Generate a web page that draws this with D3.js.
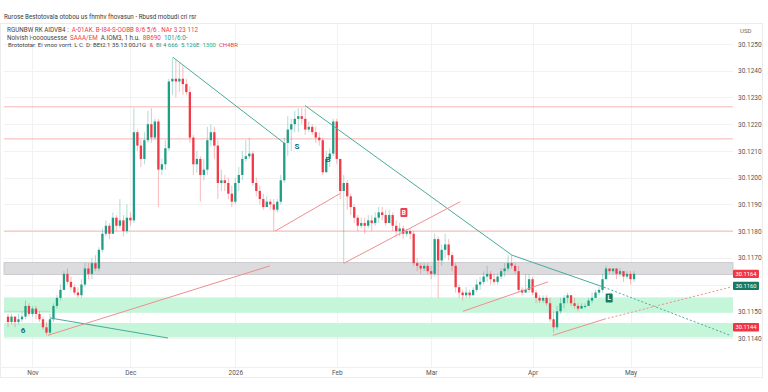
<!DOCTYPE html>
<html>
<head>
<meta charset="utf-8">
<script src="https://cdn.jsdelivr.net/npm/d3@7"></script>
<style>
  body { margin: 0; background: #fff; }
  svg { display: block; font-family: Roboto, "Noto Sans", sans-serif; }
</style>
</head>
<body>
<div id="chart-area"></div>
<script>
// price data, one candle per session
const firstOpen = 30.1148;
const closes = [
  30.1146,30.1148,30.1146,30.1147,30.1148,30.1152,30.1149,30.1151,30.1149,30.1147,
  30.1144,30.1142,30.1147,30.1152,30.1155,30.1158,30.1164,30.1161,30.1159,30.1157,
  30.1156,30.1160,30.1166,30.1164,30.1168,30.1166,30.1173,30.1179,30.1182,30.1179,
  30.1185,30.1182,30.1184,30.1180,30.1185,30.1184,30.1217,30.1212,30.1207,30.1214,
  30.1220,30.1215,30.1221,30.1203,30.1205,30.1211,30.1236,30.1237,30.1236,30.1237,
  30.1235,30.1232,30.1215,30.1205,30.1207,30.1201,30.1203,30.1214,30.1217,30.1212,
  30.1198,30.1199,30.1198,30.1194,30.1191,30.1198,30.1201,30.1207,30.1208,30.1209,
  30.1198,30.1195,30.1192,30.1189,30.1191,30.1190,30.1188,30.1191,30.1199,30.1213,
  30.1218,30.1220,30.1222,30.1223,30.1222,30.1218,30.1219,30.1217,30.1215,30.1214,
  30.1202,30.1207,30.1209,30.1221,30.1207,30.1195,30.1198,30.1193,30.1189,30.1185,
  30.1182,30.1183,30.1182,30.1184,30.1183,30.1185,30.1187,30.1186,30.1183,30.1186,
  30.1182,30.1180,30.1181,30.1179,30.1180,30.1179,30.1168,30.1167,30.1166,30.1167,
  30.1165,30.1164,30.1177,30.1169,30.1173,30.1175,30.1171,30.1167,30.1159,30.1157,
  30.1156,30.1157,30.1156,30.1158,30.1160,30.1161,30.1163,30.1164,30.1162,30.1161,
  30.1163,30.1165,30.1166,30.1168,30.1167,30.1165,30.1158,30.1157,30.1158,30.1162,
  30.1157,30.1155,30.1154,30.1155,30.1153,30.1147,30.1144,30.1150,30.1153,30.1155,
  30.1156,30.1153,30.1152,30.1151,30.1152,30.1152,30.1154,30.1155,30.1157,30.1158,
  30.1162,30.1166,30.1165,30.1166,30.1164,30.1165,30.1163,30.1164,30.1162,30.1164
];
const highs = [
  30.1149,30.1149,30.1148,30.1149,30.1150,30.1154,30.1153,30.1152,30.1152,30.1150,
  30.1148,30.1146,30.1149,30.1153,30.1156,30.1160,30.1165,30.1166,30.1163,30.1160,
  30.1159,30.1162,30.1168,30.1168,30.1170,30.1171,30.1174,30.1181,30.1184,30.1183,
  30.1187,30.1186,30.1192,30.1186,30.1190,30.1187,30.1226,30.1218,30.1214,30.1217,
  30.1225,30.1226,30.1222,30.1222,30.1207,30.1214,30.1237,30.1245,30.1244,30.1243,
  30.1242,30.1237,30.1234,30.1216,30.1210,30.1208,30.1207,30.1219,30.1220,30.1219,
  30.1214,30.1203,30.1201,30.1200,30.1197,30.1200,30.1204,30.1210,30.1214,30.1215,
  30.1210,30.1200,30.1197,30.1194,30.1193,30.1192,30.1192,30.1192,30.1201,30.1215,
  30.1223,30.1222,30.1225,30.1226,30.1226,30.1226,30.1221,30.1220,30.1219,30.1217,
  30.1215,30.1210,30.1211,30.1222,30.1222,30.1207,30.1201,30.1199,30.1194,30.1190,
  30.1186,30.1185,30.1185,30.1186,30.1186,30.1187,30.1189,30.1189,30.1188,30.1188,
  30.1187,30.1184,30.1183,30.1182,30.1181,30.1181,30.1180,30.1170,30.1168,30.1168,
  30.1168,30.1167,30.1179,30.1178,30.1175,30.1179,30.1177,30.1172,30.1168,30.1160,
  30.1158,30.1159,30.1158,30.1159,30.1162,30.1163,30.1165,30.1167,30.1165,30.1164,
  30.1164,30.1166,30.1168,30.1171,30.1171,30.1168,30.1167,30.1159,30.1164,30.1164,
  30.1163,30.1158,30.1156,30.1156,30.1156,30.1155,30.1150,30.1152,30.1155,30.1156,
  30.1157,30.1156,30.1155,30.1153,30.1153,30.1153,30.1155,30.1157,30.1158,30.1159,
  30.1164,30.1167,30.1166,30.1166,30.1166,30.1166,30.1165,30.1165,30.1165,30.1165
];
const lows = [
  30.1144,30.1145,30.1144,30.1145,30.1146,30.1147,30.1148,30.1148,30.1147,30.1146,
  30.1143,30.1141,30.1141,30.1146,30.1151,30.1154,30.1158,30.1160,30.1158,30.1156,
  30.1155,30.1155,30.1159,30.1162,30.1162,30.1165,30.1165,30.1172,30.1178,30.1177,
  30.1179,30.1180,30.1181,30.1178,30.1179,30.1182,30.1183,30.1210,30.1204,30.1205,
  30.1213,30.1213,30.1214,30.1189,30.1201,30.1203,30.1210,30.1231,30.1230,30.1232,
  30.1231,30.1231,30.1213,30.1201,30.1202,30.1191,30.1199,30.1201,30.1212,30.1207,
  30.1192,30.1195,30.1195,30.1192,30.1189,30.1190,30.1195,30.1199,30.1206,30.1207,
  30.1197,30.1193,30.1190,30.1188,30.1189,30.1188,30.1180,30.1187,30.1190,30.1198,
  30.1208,30.1210,30.1217,30.1217,30.1220,30.1216,30.1217,30.1216,30.1213,30.1212,
  30.1201,30.1202,30.1204,30.1208,30.1205,30.1192,30.1168,30.1188,30.1186,30.1183,
  30.1180,30.1181,30.1179,30.1181,30.1180,30.1182,30.1183,30.1184,30.1182,30.1183,
  30.1180,30.1178,30.1178,30.1177,30.1178,30.1177,30.1167,30.1165,30.1164,30.1165,
  30.1164,30.1162,30.1163,30.1155,30.1167,30.1170,30.1169,30.1165,30.1157,30.1155,
  30.1154,30.1155,30.1155,30.1156,30.1157,30.1158,30.1160,30.1161,30.1160,30.1160,
  30.1160,30.1162,30.1163,30.1165,30.1166,30.1164,30.1157,30.1156,30.1157,30.1157,
  30.1156,30.1153,30.1153,30.1153,30.1152,30.1146,30.1142,30.1143,30.1149,30.1151,
  30.1153,30.1152,30.1151,30.1150,30.1151,30.1151,30.1152,30.1153,30.1155,30.1156,
  30.1157,30.1162,30.1164,30.1164,30.1162,30.1163,30.1161,30.1162,30.1160,30.1161
];

const priceTicks = [30.1250,30.1240,30.1230,30.1220,30.1210,30.1200,30.1190,30.1180,30.1170,30.1160,30.1150,30.1140];
const monthTicks = [7, 35, 65, 94, 121, 150, 178];
const monthLabels = ["Nov", "Dec", "2026", "Feb", "Mar", "Apr", "May"];

// drawings: levels, zones and trend lines (candle index, price)
const levels = [30.12265, 30.12145, 30.1180];
const grayZone = [30.11682, 30.11638];
const greenZones = [[30.11552, 30.11494], [30.11456, 30.11402]];
const tealLines = [
  [[47.2, 30.1245], [78.9, 30.1213]],
  [[84.9, 30.1227], [144.1, 30.1171], [170.4, 30.1159]],
  [[12.0, 30.11475], [45.75, 30.1140]]
];
const tealDashed = [[170.4, 30.1159], [206.5, 30.1141]];
const guideLine = [[-1.1, 30.1150], [12.0, 30.1150]];
const redLines = [
  [[11.4, 30.1141], [74.9, 30.1167]],
  [[76.4, 30.1180], [94.9, 30.1194]],
  [[96.1, 30.1168], [129.3, 30.1191]],
  [[130.1, 30.1150], [154.4, 30.1161]],
  [[155.8, 30.1141], [170.4, 30.1147]]
];
const redDashed = [[170.4, 30.1147], [206.5, 30.1159]];

const markers = [
  {i: 4.3, p: 30.1143, label: "6", kind: "glyph"},
  {i: 82.6, p: 30.1212, label: "S", kind: "glyph"},
  {i: 91.5, p: 30.1207, label: "B", kind: "glyph"},
  {i: 113.2, p: 30.1187, label: "B", kind: "sell"},
  {i: 171.9, p: 30.1155, label: "L", kind: "buy"}
];
const priceTags = [
  {p: 30.1164, label: "30.1164", kind: "sell"},
  {p: 30.11595, label: "30.1160", kind: "buy"},
  {p: 30.1144, label: "30.1144", kind: "sell"}
];

const titleText = "Rurose Bestotovala otobou us fhmhv fhovasun - Rbusd mobudi cri rsr";
const legendRows = [
  [["RGUNBW RK AIDVB4 :", "dark"], ["A-01AK. B-I84-S-OOBB 8/6 5/6 . NAr 3 23 112", "red"]],
  [["Nolvish i-oooousesse", "dark"], ["SAAA/EM", "red"], ["A.IOM3, 1 h.u.", "dark"], ["8B690", "red"], ["101/6:0-", "teal"]],
  [["Brotototar. Ei vnoo vorrt. L C. D: BEt2.1 35.13 00J1G", "dark"], ["&", "red"], ["BI 4 666", "teal"], ["5.126E", "teal"], ["1300", "green"], ["CH4BR", "red"]]
];

const UP = "#1f9e86", DOWN = "#f03a47";
const TEAL = "#48ab9c", RED_LINE = "#f08e8e";

// shrink a text's font until it fits in maxW (no glyph squeezing)
const fitText = (sel, maxW, size) => {
  sel.attr("font-size", size);
  const w = sel.node().getComputedTextLength();
  if (w > maxW) sel.attr("font-size", size * maxW / w);
  return sel;
};

const drawChart = () => {
  const width = 768, height = 392;
  const plot = {left: 4, right: 733, top: 24, bottom: 367};

  const x = d3.scaleLinear().domain([0, closes.length - 1]).range([8, 634]);
  const y = d3.scaleLinear().domain([30.1140, 30.1250]).range([338, 44]);

  const candles = closes.map((c, i) => {
    const o = i === 0 ? firstOpen : closes[i - 1];
    return {i, o, c, h: Math.max(highs[i], o, c), l: Math.min(lows[i], o, c)};
  });

  const svg = d3.select("#chart-area").append("svg")
    .attr("width", width)
    .attr("height", height);

  svg.append("rect").attr("width", width).attr("height", height).attr("fill", "#fff");

  // frame
  svg.append("rect")
    .attr("x", 0.5).attr("y", plot.top - 0.5)
    .attr("width", 762).attr("height", 378 - plot.top)
    .attr("fill", "none").attr("stroke", "#ececec");
  svg.append("line")
    .attr("x1", 0).attr("x2", 763)
    .attr("y1", plot.bottom + 0.5).attr("y2", plot.bottom + 0.5)
    .attr("stroke", "#f0f0f0");

  // grid
  const grid = svg.append("g").attr("class", "grid");
  grid.selectAll(".hgrid").data(priceTicks).enter().append("line")
    .attr("x1", plot.left).attr("x2", plot.right)
    .attr("y1", d => Math.round(y(d)) + 0.5).attr("y2", d => Math.round(y(d)) + 0.5)
    .attr("stroke", "#f2f2f2");
  grid.selectAll(".vgrid").data(monthTicks).enter().append("line")
    .attr("x1", d => Math.round(x(d)) + 0.5).attr("x2", d => Math.round(x(d)) + 0.5)
    .attr("y1", plot.top).attr("y2", plot.bottom)
    .attr("stroke", "#f2f2f2");

  // zones
  const zonesG = svg.append("g");
  zonesG.selectAll(".green").data(greenZones).enter().append("rect")
    .attr("x", plot.left).attr("width", plot.right - plot.left)
    .attr("y", d => y(d[0])).attr("height", d => y(d[1]) - y(d[0]))
    .attr("fill", "#c6f6da");
  zonesG.append("rect")
    .attr("x", plot.left).attr("width", plot.right - plot.left)
    .attr("y", y(grayZone[0])).attr("height", y(grayZone[1]) - y(grayZone[0]))
    .attr("fill", "#dcdcde").attr("stroke", "#c4c4c8").attr("stroke-width", 0.8);

  // horizontal levels
  svg.selectAll(".level").data(levels).enter().append("line")
    .attr("x1", plot.left).attr("x2", plot.right)
    .attr("y1", d => y(d)).attr("y2", d => y(d))
    .attr("stroke", "#f5b5b5").attr("stroke-width", 1);

  const line = d3.line().x(d => x(d[0])).y(d => y(d[1]));

  svg.append("path").attr("d", line(guideLine))
    .attr("fill", "none").attr("stroke", "#cfd3d6").attr("stroke-width", 1);

  // candles
  const candleG = svg.append("g");
  const bw = 2.3;
  candleG.selectAll(".wick").data(candles).enter().append("line")
    .attr("x1", d => x(d.i)).attr("x2", d => x(d.i))
    .attr("y1", d => y(d.h)).attr("y2", d => y(d.l))
    .attr("stroke", d => d.c >= d.o ? UP : DOWN)
    .attr("stroke-opacity", 0.4)
    .attr("stroke-width", 0.9);
  candleG.selectAll(".body").data(candles).enter().append("rect")
    .attr("x", d => x(d.i) - bw / 2)
    .attr("width", bw)
    .attr("y", d => y(Math.max(d.o, d.c)))
    .attr("height", d => Math.max(1, Math.abs(y(d.o) - y(d.c))))
    .attr("fill", d => d.c >= d.o ? UP : DOWN);

  // trend lines
  tealLines.forEach(pts => svg.append("path").attr("d", line(pts))
    .attr("fill", "none").attr("stroke", TEAL).attr("stroke-width", 1));
  redLines.forEach(pts => svg.append("path").attr("d", line(pts))
    .attr("fill", "none").attr("stroke", RED_LINE).attr("stroke-width", 1));
  svg.append("path").attr("d", line(tealDashed))
    .attr("fill", "none").attr("stroke", TEAL).attr("stroke-width", 1)
    .attr("stroke-dasharray", "2,2");
  svg.append("path").attr("d", line(redDashed))
    .attr("fill", "none").attr("stroke", RED_LINE).attr("stroke-width", 1)
    .attr("stroke-dasharray", "2,2");

  // markers
  const mk = svg.append("g");
  markers.forEach(m => {
    const mx = x(m.i), my = y(m.p);
    if (m.kind === "glyph") {
      mk.append("text").attr("x", mx).attr("y", my + 3)
        .attr("text-anchor", "middle").attr("font-size", 8).attr("font-weight", 700)
        .attr("fill", "#0f6f78").text(m.label);
    } else {
      mk.append("rect").attr("x", mx - 3.5).attr("y", my - 4.5).attr("width", 7).attr("height", 9)
        .attr("rx", 1).attr("fill", m.kind === "buy" ? "#157a62" : "#f0404d");
      mk.append("text").attr("x", mx).attr("y", my + 2.3)
        .attr("text-anchor", "middle").attr("font-size", 6.5).attr("font-weight", 700)
        .attr("fill", "#fff").text(m.label);
    }
  });

  // price axis; labels under a price tag are hidden by the tag
  const covered = v => priceTags.some(t => Math.abs(y(t.p) - y(v)) < 7);
  const yAxis = d3.axisRight(y)
    .tickValues(priceTicks.filter(v => !covered(v)))
    .tickFormat(d3.format(".4f")).tickSize(0);
  const yAxisG = svg.append("g").attr("transform", `translate(736, 0)`).call(yAxis);
  yAxisG.select(".domain").remove();
  yAxisG.selectAll("text").attr("x", 2).attr("font-size", 6.5).attr("fill", "#555")
    .attr("font-family", "Roboto, sans-serif");

  svg.append("text").attr("x", 740).attr("y", 33).attr("font-size", 6).attr("fill", "#666").text("USD");

  // time axis
  const xAxis = d3.axisBottom(x).tickValues(monthTicks).tickFormat((d, i) => monthLabels[i]).tickSize(0);
  const xAxisG = svg.append("g").attr("transform", `translate(0, ${plot.bottom})`).call(xAxis);
  xAxisG.select(".domain").remove();
  xAxisG.selectAll("text").attr("y", 3).attr("font-size", 6.5).attr("fill", "#555")
    .attr("font-family", "Roboto, sans-serif");

  // price tags
  const tagG = svg.append("g");
  priceTags.forEach(t => {
    const ty = y(t.p);
    tagG.append("rect").attr("x", 733).attr("y", ty - 4.2).attr("width", 26).attr("height", 8.4)
      .attr("rx", 1).attr("fill", t.kind === "buy" ? "#157a62" : "#f23645");
    tagG.append("text").attr("x", 746).attr("y", ty + 2).attr("text-anchor", "middle")
      .attr("font-size", 5.8).attr("fill", "#fff").text(t.label);
  });

  // title and legend
  fitText(svg.append("text").attr("x", 4).attr("y", 18.5)
    .attr("fill", "#3a3a3a").text(titleText), 193, 7.5);

  // each legend row: segments laid out one after another, one font size per row
  const segColor = {dark: "#444", red: "#ef3d4a", teal: "#1e9a8c", green: "#2bb673"};
  const rowSpan = [[7, 208], [7, 192], [8, 238]];
  const rowBase = [32.3, 40, 47.3];
  const baseSize = 6.3, gap = 3;
  legendRows.forEach((row, r) => {
    const texts = row.map(seg => svg.append("text").attr("y", rowBase[r])
      .attr("font-size", baseSize).attr("fill", segColor[seg[1]]).text(seg[0]));
    const widths = texts.map(t => t.node().getComputedTextLength());
    const total = d3.sum(widths) + gap * (row.length - 1);
    const k = Math.min(1, (rowSpan[r][1] - rowSpan[r][0]) / total);
    let cx = rowSpan[r][0];
    texts.forEach((t, s) => {
      t.attr("x", cx).attr("font-size", baseSize * k);
      cx += (widths[s] + gap) * k;
    });
  });
};

window.onload = drawChart;
</script>
</body>
</html>
